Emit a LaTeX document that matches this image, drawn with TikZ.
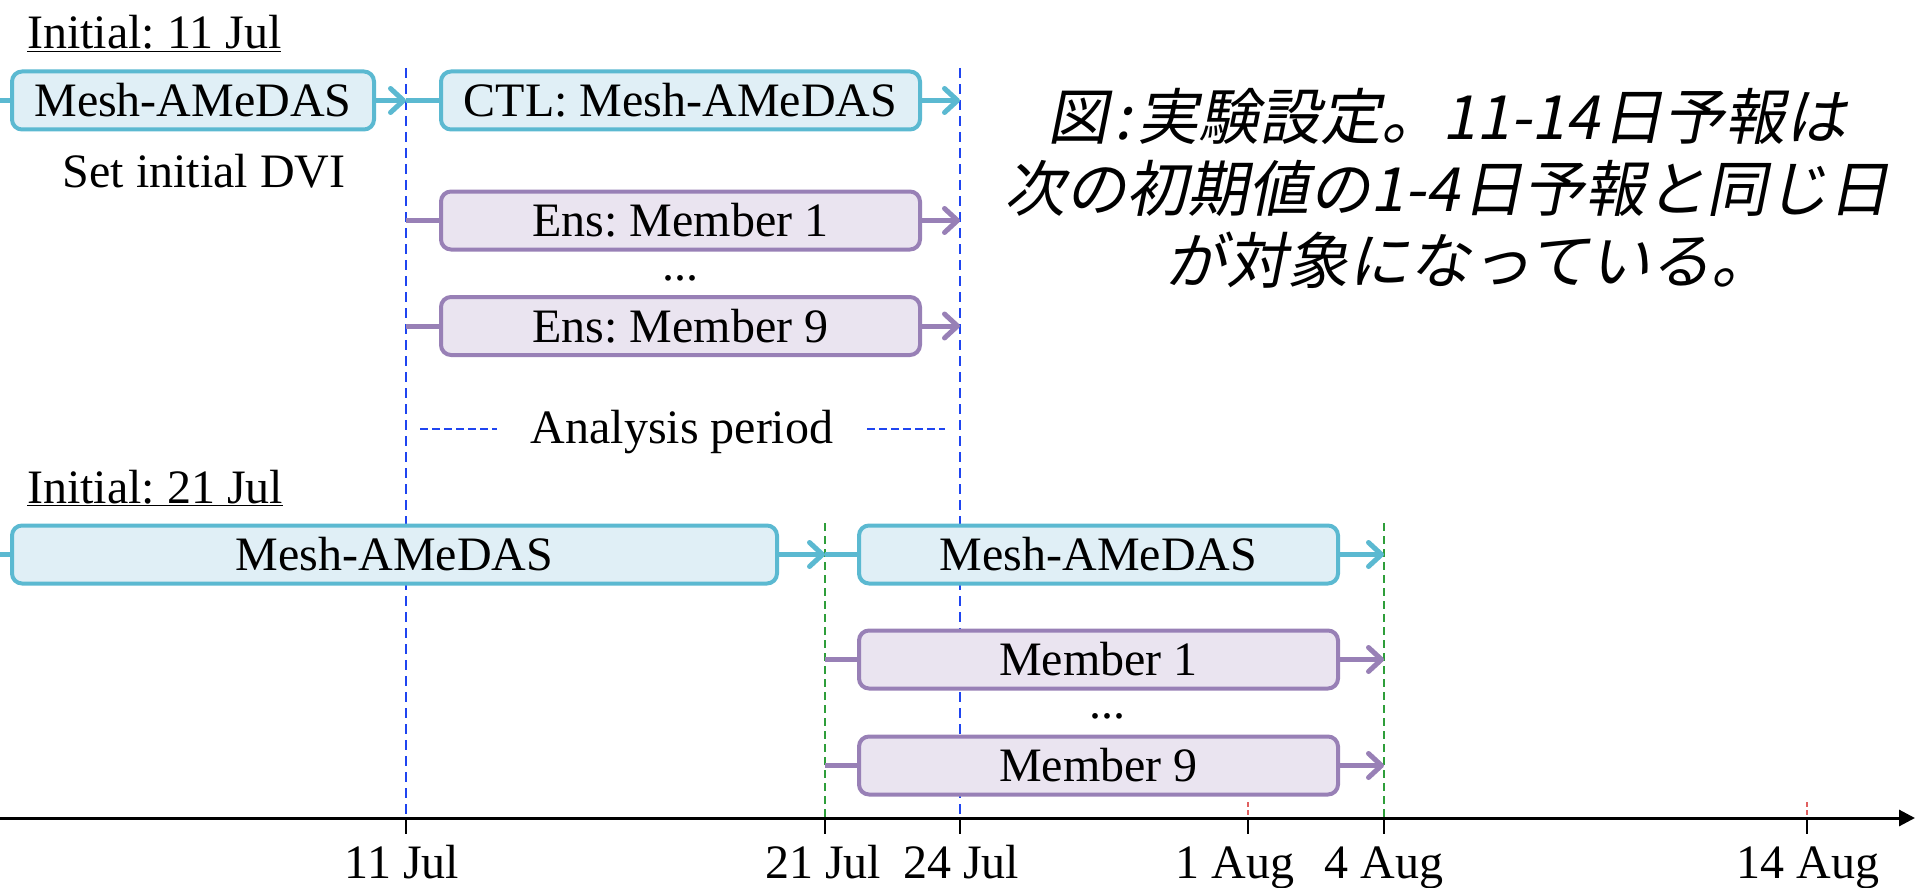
\documentclass[tikz,border=0pt]{standalone}
\usepackage{fontspec}
\setmainfont{Liberation Serif}
\newfontfamily\jpfont[FakeSlant=0.2]{Noto Sans CJK JP}
\usetikzlibrary{arrows.meta}
\definecolor{bl}{HTML}{5BB9D1}
\definecolor{blfill}{HTML}{E0EFF6}
\definecolor{pu}{HTML}{9880B6}
\definecolor{pufill}{HTML}{EAE4F0}
\definecolor{dblue}{HTML}{1F45F0}
\definecolor{dgreen}{HTML}{2E9E3A}
\definecolor{dred}{HTML}{E06060}
\frenchspacing
\begin{document}
\begin{tikzpicture}[x=1pt,y=-1pt,
  txt/.style={font=\fontsize{48}{58}\selectfont, inner sep=0pt},
  bbox/.style={txt, draw=bl, fill=blfill, line width=4pt, rounded corners=10pt, minimum height=58pt},
  pbox/.style={txt, draw=pu, fill=pufill, line width=4pt, rounded corners=10pt, minimum height=58pt},
  bline/.style={draw=bl, line width=5pt},
  pline/.style={draw=pu, line width=5pt},
  barrow/.style={bline, -{Straight Barb[length=13pt,width=24pt,round]}},
  parrow/.style={pline, -{Straight Barb[length=13pt,width=24pt,round]}},
  vdash/.style={draw=dblue, line width=1.8pt, dash pattern=on 10pt off 6pt},
  gdash/.style={draw=dgreen, line width=1.6pt, dash pattern=on 8pt off 5pt},
  rdash/.style={draw=dred, line width=1.4pt, dash pattern=on 5pt off 3pt},
  tick/.style={draw=black, line width=2pt},
  lbl/.style={txt, anchor=base}
]
\useasboundingbox (0,0) rectangle (1915,888);

% guide lines
\coordinate (v1a) at (406,68);  \coordinate (v1b) at (406,818);
\coordinate (v2a) at (960,68);  \coordinate (v2b) at (960,818);
\coordinate (g1a) at (825,523); \coordinate (g1b) at (825,818);
\coordinate (g2a) at (1384,523); \coordinate (g2b) at (1384,818);
\draw[vdash] (v1a) -- (v1b);
\draw[vdash] (v2a) -- (v2b);
\draw[gdash] (g1a) -- (g1b);
\draw[gdash] (g2a) -- (g2b);

% titles
\node[txt, anchor=base west] (init1) at (27,49) {\underline{Initial: 11 Jul}};
\node[txt, anchor=base west] (init2) at (27,503) {\underline{Initial: 21 Jul}};
\node[lbl] (dvi) at (204,188) {Set initial DVI};

% boxes
\node[bbox, minimum width=362pt] (a1) at (193,100.5) {Mesh-AMeDAS};
\node[bbox, minimum width=479pt] (b1) at (680.5,100.5) {CTL: Mesh-AMeDAS};
\node[pbox, minimum width=479pt] (e1) at (680.5,220.5) {Ens: Member 1};
\node[pbox, minimum width=479pt] (e9) at (680.5,326) {Ens: Member 9};
\node[lbl] (dots1) at (680,280) {...};
\node[bbox, minimum width=765pt] (c1) at (394.5,554.5) {Mesh-AMeDAS};
\node[bbox, minimum width=479pt] (d1) at (1098.5,554.5) {Mesh-AMeDAS};
\node[pbox, minimum width=479pt] (m1) at (1098.5,659.5) {Member 1};
\node[pbox, minimum width=479pt] (m9) at (1098.5,765.5) {Member 9};
\node[lbl] (dots2) at (1107,718) {...};

% connectors row 1
\coordinate (s1) at (0,100.5);
\coordinate (j1) at (406,100.5);
\coordinate (k1) at (960,100.5);
\draw[bline] (s1) -- (a1.west);
\draw[barrow] (a1.east) -- (j1);
\draw[bline] (j1) -- (b1.west);
\draw[barrow] (b1.east) -- (k1);
\coordinate (e1s) at (406,220.5); \coordinate (e1e) at (960,220.5);
\coordinate (e9s) at (406,326);   \coordinate (e9e) at (960,326);
\draw[pline] (e1s) -- (e1.west);
\draw[parrow] (e1.east) -- (e1e);
\draw[pline] (e9s) -- (e9.west);
\draw[parrow] (e9.east) -- (e9e);

% analysis period
\node[lbl] (ap) at (682,443) {Analysis period};
\coordinate (ap1) at (420,429); \coordinate (ap2) at (497,429);
\coordinate (ap3) at (867,429); \coordinate (ap4) at (945,429);
\draw[draw=dblue, line width=1.8pt, dash pattern=on 8pt off 4pt] (ap1) -- (ap2);
\draw[draw=dblue, line width=1.8pt, dash pattern=on 8pt off 4pt] (ap3) -- (ap4);

% connectors row 2
\coordinate (s2) at (0,554.5);
\coordinate (j2) at (825,554.5);
\coordinate (k2) at (1384,554.5);
\draw[bline] (s2) -- (c1.west);
\draw[barrow] (c1.east) -- (j2);
\draw[bline] (j2) -- (d1.west);
\draw[barrow] (d1.east) -- (k2);
\coordinate (m1s) at (825,659.5); \coordinate (m1e) at (1384,659.5);
\coordinate (m9s) at (825,765.5); \coordinate (m9e) at (1384,765.5);
\draw[pline] (m1s) -- (m1.west);
\draw[parrow] (m1.east) -- (m1e);
\draw[pline] (m9s) -- (m9.west);
\draw[parrow] (m9.east) -- (m9e);

% axis
\coordinate (ax0) at (0,818);
\coordinate (ax1) at (1915,818);
\draw[line width=3pt, -{Triangle[length=16pt,width=16pt]}] (ax0) -- (ax1);
\foreach \x in {406,825,960,1248,1384,1807} { \draw[tick] (\x,818) -- (\x,834); }
\draw[rdash] (1248,802) -- (1248,817);
\draw[rdash] (1807,802) -- (1807,817);

\node[lbl] (t1) at (402,878) {11 Jul};
\node[lbl] (t2) at (823,878) {21 Jul};
\node[lbl] (t3) at (961,878) {24 Jul};
\node[lbl] (t4) at (1235,878) {1 Aug};
\node[lbl] (t5) at (1384,878) {4 Aug};
\node[lbl] (t6) at (1808,878) {14 Aug};

% Japanese caption
\node[inner sep=0pt, align=center, font=\jpfont\fontsize{61}{72}\selectfont] (cap) at (1447,188)
  {図\hspace{6pt}:\hspace{6pt}実験設定。11-14\hspace{3pt}日予報は\\次の初期値の1-4\hspace{3pt}日予報と同じ日\\\hspace*{44pt}が対象になっている。};
\end{tikzpicture}
\end{document}
